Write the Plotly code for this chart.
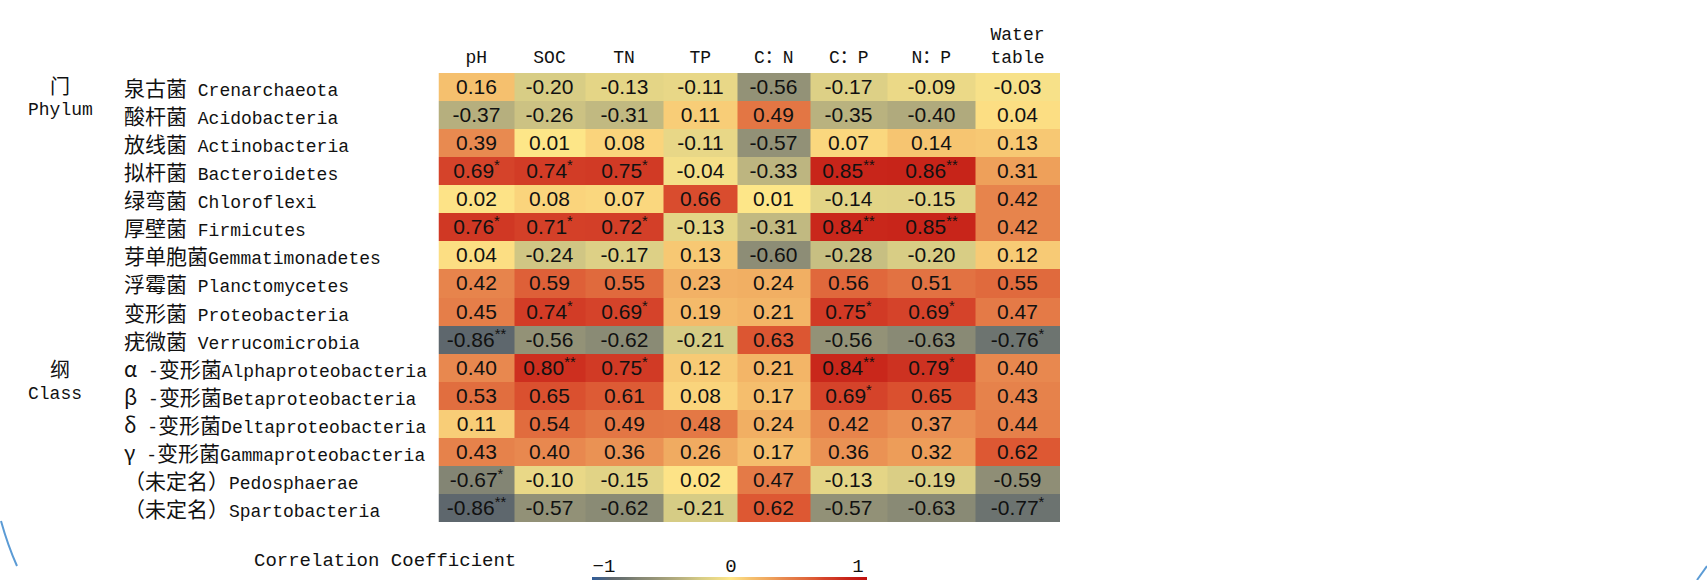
import plotly.graph_objects as go

# ---------------- data ----------------
columns = ["pH", "SOC", "TN", "TP", "C：N", "C：P", "N：P", "Water<br>table"]

row_labels = [
    "泉古菌 Crenarchaeota",
    "酸杆菌 Acidobacteria",
    "放线菌 Actinobacteria",
    "拟杆菌 Bacteroidetes",
    "绿弯菌 Chloroflexi",
    "厚壁菌 Firmicutes",
    "芽单胞菌Gemmatimonadetes",
    "浮霉菌 Planctomycetes",
    "变形菌 Proteobacteria",
    "疣微菌 Verrucomicrobia",
    "α -变形菌Alphaproteobacteria",
    "β -变形菌Betaproteobacteria",
    "δ -变形菌Deltaproteobacteria",
    "γ -变形菌Gammaproteobacteria",
    "（未定名）Pedosphaerae",
    "（未定名）Spartobacteria",
]

values = [
    [0.16, -0.20, -0.13, -0.11, -0.56, -0.17, -0.09, -0.03],
    [-0.37, -0.26, -0.31, 0.11, 0.49, -0.35, -0.40, 0.04],
    [0.39, 0.01, 0.08, -0.11, -0.57, 0.07, 0.14, 0.13],
    [0.69, 0.74, 0.75, -0.04, -0.33, 0.85, 0.86, 0.31],
    [0.02, 0.08, 0.07, 0.66, 0.01, -0.14, -0.15, 0.42],
    [0.76, 0.71, 0.72, -0.13, -0.31, 0.84, 0.85, 0.42],
    [0.04, -0.24, -0.17, 0.13, -0.60, -0.28, -0.20, 0.12],
    [0.42, 0.59, 0.55, 0.23, 0.24, 0.56, 0.51, 0.55],
    [0.45, 0.74, 0.69, 0.19, 0.21, 0.75, 0.69, 0.47],
    [-0.86, -0.56, -0.62, -0.21, 0.63, -0.56, -0.63, -0.76],
    [0.40, 0.80, 0.75, 0.12, 0.21, 0.84, 0.79, 0.40],
    [0.53, 0.65, 0.61, 0.08, 0.17, 0.69, 0.65, 0.43],
    [0.11, 0.54, 0.49, 0.48, 0.24, 0.42, 0.37, 0.44],
    [0.43, 0.40, 0.36, 0.26, 0.17, 0.36, 0.32, 0.62],
    [-0.67, -0.10, -0.15, 0.02, 0.47, -0.13, -0.19, -0.59],
    [-0.86, -0.57, -0.62, -0.21, 0.62, -0.57, -0.63, -0.77],
]

signif = [
    ["", "", "", "", "", "", "", ""],
    ["", "", "", "", "", "", "", ""],
    ["", "", "", "", "", "", "", ""],
    ["*", "*", "*", "", "", "**", "**", ""],
    ["", "", "", "", "", "", "", ""],
    ["*", "*", "*", "", "", "**", "**", ""],
    ["", "", "", "", "", "", "", ""],
    ["", "", "", "", "", "", "", ""],
    ["", "*", "*", "", "", "*", "*", ""],
    ["**", "", "", "", "", "", "", "*"],
    ["", "**", "*", "", "", "**", "*", ""],
    ["", "", "", "", "", "*", "", ""],
    ["", "", "", "", "", "", "", ""],
    ["", "", "", "", "", "", "", ""],
    ["*", "", "", "", "", "", "", ""],
    ["**", "", "", "", "", "", "", "*"],
]

group_labels = [("门", "Phylum"), ("纲", "Class")]
cbar_title = "Correlation Coefficient"
cbar_tickvals = [-1, 0, 1]
cbar_ticktext = ["−1", "0", "1"]

# ---------------- layout constants ----------------
W, H = 1707, 580
col_widths = [75.5, 71, 78, 74.5, 72.5, 77.5, 87.5, 85]
hm_left, hm_right, hm_top, hm_bottom = 438.5, 1060, 73, 522
label_x = 122
cb_left, cb_right = 592, 867

colorscale = [
    [0.000, "#2F5C9A"],
    [0.070, "#5E676D"],
    [0.120, "#6D7470"],
    [0.165, "#838574"],
    [0.220, "#939277"],
    [0.335, "#BDB580"],
    [0.395, "#D6CC85"],
    [0.480, "#F4DF88"],
    [0.500, "#FEE88A"],
    [0.580, "#F5C06E"],
    [0.655, "#EEA05A"],
    [0.695, "#E88A50"],
    [0.775, "#E06A3D"],
    [0.815, "#DC5632"],
    [0.845, "#D5432A"],
    [0.870, "#D23C26"],
    [0.925, "#C8251A"],
    [1.000, "#C01010"],
]

def px(x):
    return x / W

def py(y):
    return 1 - y / H

edges = [0]
for w in col_widths:
    edges.append(edges[-1] + w)
centers = [(edges[i] + edges[i + 1]) / 2 for i in range(len(col_widths))]

texts = [
    [f"{v:.2f}" + (f"<sup>{s}</sup>" if s else "") for v, s in zip(rv, rs)]
    for rv, rs in zip(values, signif)
]

LATIN = "Liberation Mono, DejaVu Sans Mono, monospace"
CJK = "Noto Sans CJK SC"

def mixed(s, cjk_size=21):
    out, buf, mode = [], "", None
    def flush(b, m):
        if not b:
            return ""
        if m == "c":
            return f'<span style="font-family:{CJK};font-size:{cjk_size}px">{b}</span>'
        return b
    for ch in s:
        m = "c" if (ord(ch) > 0x2E80 or ch in "αβγδ") else "l"
        if m != mode:
            out.append(flush(buf, mode))
            buf, mode = "", m
        buf += ch
    out.append(flush(buf, mode))
    return "".join(out)

fig = go.Figure()

fig.add_trace(go.Heatmap(
    z=values,
    x=edges,
    y=list(range(len(row_labels))),
    text=texts,
    texttemplate="%{text}",
    textfont=dict(family="Liberation Sans, Arial", size=21, color="#111111"),
    colorscale=colorscale,
    zmin=-1, zmax=1,
    xgap=0, ygap=0,
    hoverinfo="skip",
    colorbar=dict(
        orientation="h",
        x=px((cb_left + cb_right) / 2), xanchor="center",
        y=0, yanchor="bottom",
        len=cb_right - cb_left, lenmode="pixels",
        thickness=3, thicknessmode="pixels",
        xpad=0, ypad=0,
        outlinewidth=0,
        showticklabels=False, ticks="",
        title=dict(text=""),
    ),
))

# empty trace to create the colorbar tick axis
fig.add_trace(go.Scatter(x=[None], y=[None], xaxis="x2", yaxis="y2",
                         showlegend=False, hoverinfo="skip"))

annotations = []
for i, lab in enumerate(row_labels):
    annotations.append(dict(
        x=px(label_x), xref="paper", xanchor="left",
        y=i, yref="y", yanchor="middle",
        text=mixed(lab), showarrow=False,
        font=dict(family=LATIN, size=18, color="#111111"),
    ))

# group labels
grp_pos = [(85, 110), (368, 394)]
for (cjk_t, lat_t), (y1, y2) in zip(group_labels, grp_pos):
    annotations.append(dict(
        x=px(60), xref="paper", xanchor="center",
        y=py(y1), yref="paper", yanchor="middle",
        text=cjk_t, showarrow=False,
        font=dict(family=CJK, size=20, color="#111111"),
    ))
    annotations.append(dict(
        x=px(26), xref="paper", xanchor="left",
        y=py(y2), yref="paper", yanchor="middle",
        text=lat_t, showarrow=False,
        font=dict(family=LATIN, size=18, color="#111111"),
    ))

annotations.append(dict(
    x=px(252), xref="paper", xanchor="left",
    y=py(561), yref="paper", yanchor="middle",
    text=cbar_title, showarrow=False,
    font=dict(family=LATIN, size=19, color="#111111"),
))

units = 2 / (858 - 604)
x2_range = [-1 - (604 - cb_left) * units, 1 + (cb_right - 858) * units]

fig.update_layout(
    width=W, height=H,
    margin=dict(l=0, r=0, t=0, b=0, pad=0, autoexpand=False),
    paper_bgcolor="white", plot_bgcolor="white",
    showlegend=False,
    xaxis=dict(
        domain=[px(hm_left), px(hm_right)],
        range=[0, edges[-1]],
        side="top",
        tickmode="array", tickvals=centers, ticktext=columns,
        ticks="", ticklen=0, ticklabelstandoff=5,
        tickfont=dict(family=LATIN + ", " + CJK, size=18, color="#111111"),
        showgrid=False, zeroline=False, showline=False,
        fixedrange=True,
    ),
    yaxis=dict(
        domain=[py(hm_bottom), py(hm_top)],
        range=[len(row_labels) - 0.5, -0.5],
        showticklabels=False, ticks="",
        showgrid=False, zeroline=False, showline=False,
        fixedrange=True,
    ),
    xaxis2=dict(
        domain=[px(cb_left), px(cb_right)],
        range=x2_range, anchor="y2", side="top",
        tickmode="array", tickvals=cbar_tickvals, ticktext=cbar_ticktext,
        ticks="", ticklen=0,
        tickfont=dict(family=LATIN, size=19, color="#111111"),
        showgrid=False, zeroline=False, showline=False,
    ),
    yaxis2=dict(
        domain=[0, 3 / H], anchor="x2",
        showticklabels=False, ticks="",
        showgrid=False, zeroline=False, showline=False,
    ),
    annotations=annotations,
    shapes=[
        dict(type="path", xref="paper", yref="paper",
             path=f"M {px(1)},{py(521)} Q {px(8)},{py(546)} {px(17)},{py(566)}",
             line=dict(color="#5B9BD5", width=2)),
        dict(type="path", xref="paper", yref="paper",
             path=f"M {px(1707)},{py(566)} Q {px(1702)},{py(573)} {px(1697)},{py(580)}",
             line=dict(color="#5B9BD5", width=2)),
    ],
)

fig.write_html("out.html")
